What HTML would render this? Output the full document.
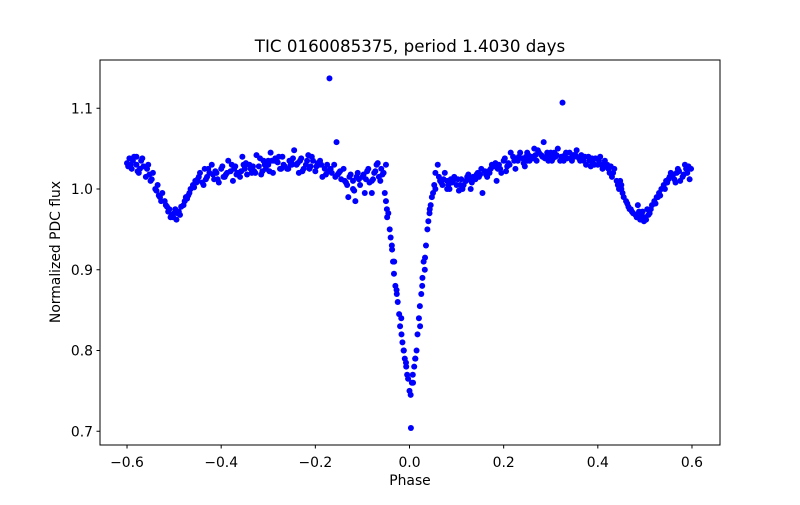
<!DOCTYPE html>
<html><head><meta charset="utf-8"><style>
body{margin:0;background:#fff}
text{font-family:"DejaVu Sans","Liberation Sans",sans-serif;fill:#000}
</style></head><body>
<svg id="chart" width="800" height="500" xmlns="http://www.w3.org/2000/svg">
<rect width="800" height="500" fill="#fff"/>
<g id="points"></g>
<rect x="100" y="60" width="620" height="385" fill="none" stroke="#000" stroke-width="1"/>
<g id="xticks"></g>
<g id="yticks"></g>
<text x="410" y="52" font-size="16.7" text-anchor="middle">TIC 0160085375, period 1.4030 days</text>
<text x="410" y="485" font-size="13.9" text-anchor="middle">Phase</text>
<text transform="translate(60,252) rotate(-90)" font-size="13.9" text-anchor="middle">Normalized PDC flux</text>
</svg>
<script>
const xTicks=[-0.6,-0.4,-0.2,0.0,0.2,0.4,0.6];
const xTickLabels=["−0.6","−0.4","−0.2","0.0","0.2","0.4","0.6"];
const yTicks=[0.7,0.8,0.9,1.0,1.1];
const yTickLabels=["0.7","0.8","0.9","1.0","1.1"];
const phases=[-0.600,-0.595,-0.590,-0.585,-0.580,-0.575,-0.570,-0.565,-0.560,-0.555,-0.550,-0.545,-0.540,-0.535,-0.530,-0.525,-0.520,-0.515,-0.510,-0.505,-0.500,-0.495,-0.490,-0.485,-0.480,-0.475,-0.470,-0.465,-0.460,-0.455,-0.450,-0.445,-0.440,-0.435,-0.430,-0.425,-0.420,-0.415,-0.410,-0.405,-0.400,-0.395,-0.390,-0.385,-0.380,-0.375,-0.370,-0.365,-0.360,-0.355,-0.350,-0.345,-0.340,-0.335,-0.330,-0.325,-0.320,-0.315,-0.310,-0.305,-0.300,-0.295,-0.290,-0.285,-0.280,-0.275,-0.270,-0.265,-0.260,-0.255,-0.250,-0.245,-0.240,-0.235,-0.230,-0.225,-0.220,-0.215,-0.210,-0.205,-0.200,-0.195,-0.190,-0.185,-0.180,-0.175,-0.170,-0.165,-0.160,-0.155,-0.150,-0.145,-0.140,-0.135,-0.130,-0.125,-0.120,-0.115,-0.110,-0.105,-0.100,-0.095,-0.090,-0.085,-0.080,-0.075,-0.070,-0.065,-0.060,-0.055,-0.050,-0.045,-0.040,-0.035,-0.030,-0.025,-0.020,-0.015,-0.010,-0.005,0.000,0.005,0.010,0.015,0.020,0.025,0.030,0.035,0.040,0.045,0.050,0.055,0.060,0.065,0.070,0.075,0.080,0.085,0.090,0.095,0.100,0.105,0.110,0.115,0.120,0.125,0.130,0.135,0.140,0.145,0.150,0.155,0.160,0.165,0.170,0.175,0.180,0.185,0.190,0.195,0.200,0.205,0.210,0.215,0.220,0.225,0.230,0.235,0.240,0.245,0.250,0.255,0.260,0.265,0.270,0.275,0.280,0.285,0.290,0.295,0.300,0.305,0.310,0.315,0.320,0.325,0.330,0.335,0.340,0.345,0.350,0.355,0.360,0.365,0.370,0.375,0.380,0.385,0.390,0.395,0.400,0.405,0.410,0.415,0.420,0.425,0.430,0.435,0.440,0.445,0.450,0.455,0.460,0.465,0.470,0.475,0.480,0.485,0.490,0.495,0.500,0.505,0.510,0.515,0.520,0.525,0.530,0.535,0.540,0.545,0.550,0.555,0.560,0.565,0.570,0.575,0.580,0.585,0.590,0.595,0.598,
-0.048,-0.042,-0.037,-0.033,-0.027,-0.022,-0.017,-0.012,-0.007,-0.003,0.003,0.007,0.012,0.017,0.022,0.027,0.033,0.038,0.043,-0.062,-0.58,-0.502,0.498,-0.3,0.3,-0.12,0.12,-0.08,0.08,-0.25,0.25,-0.45,0.45,-0.35,0.35,-0.05,0.055];
const fluxes=[1.032,1.038,1.025,1.040,1.030,1.020,1.035,1.028,1.015,1.030,1.010,1.020,1.000,1.005,0.990,0.995,0.985,0.978,0.975,0.968,0.970,0.962,0.972,0.978,0.980,0.990,0.992,1.000,1.005,1.010,1.012,1.020,1.008,1.025,1.015,1.020,1.030,1.012,1.020,1.008,1.025,1.015,1.018,1.035,1.022,1.010,1.028,1.020,1.015,1.040,1.025,1.018,1.030,1.020,1.022,1.042,1.028,1.018,1.035,1.025,1.030,1.045,1.020,1.038,1.033,1.025,1.040,1.028,1.025,1.035,1.032,1.048,1.030,1.020,1.038,1.025,1.030,1.042,1.028,1.035,1.022,1.032,1.035,1.015,1.025,1.030,1.137,1.020,1.030,1.058,1.020,1.012,1.025,1.008,0.990,1.018,1.010,0.985,1.020,1.005,1.015,0.995,1.022,1.008,1.010,1.020,1.030,1.015,1.025,1.020,0.985,0.970,0.940,0.910,0.880,0.860,0.830,0.810,0.790,0.770,0.750,0.760,0.780,0.800,0.840,0.870,0.910,0.930,0.960,0.980,0.995,1.020,1.030,1.010,1.005,1.020,1.010,1.000,1.008,1.015,1.005,0.998,1.012,1.005,1.010,1.018,1.000,1.015,1.012,1.020,1.018,0.995,1.022,1.015,1.020,1.030,1.028,1.010,1.030,1.020,1.035,1.022,1.032,1.045,1.040,1.025,1.035,1.045,1.038,1.028,1.045,1.035,1.040,1.050,1.035,1.045,1.042,1.058,1.040,1.035,1.045,1.038,1.040,1.050,1.035,1.107,1.042,1.038,1.045,1.035,1.040,1.048,1.038,1.042,1.035,1.030,1.040,1.028,1.032,1.038,1.030,1.040,1.025,1.035,1.030,1.020,1.015,1.025,1.010,1.000,1.000,0.990,0.985,0.978,0.975,0.970,0.968,0.980,0.962,0.972,0.965,0.975,0.970,0.980,0.985,0.990,0.995,1.000,1.005,1.010,1.012,1.020,1.018,1.008,1.025,1.010,1.015,1.030,1.020,1.012,1.025,
0.975,0.950,0.925,0.895,0.870,0.845,0.820,0.800,0.780,0.765,0.704,0.770,0.790,0.820,0.855,0.880,0.915,0.950,0.975,1.010,1.040,0.965,0.960,1.035,1.040,1.000,1.010,0.995,1.000,1.030,1.035,1.010,1.005,1.028,1.042,1.030,1.000];
const phases2=[-0.5975,-0.5875,-0.5775,-0.5675,-0.5575,-0.5475,-0.5375,-0.5275,-0.5175,-0.5075,-0.4975,-0.4875,-0.4775,-0.4675,-0.4575,-0.4475,-0.4375,-0.4275,-0.4175,-0.4075,-0.3975,-0.3875,-0.3775,-0.3675,-0.3575,-0.3475,-0.3375,-0.3275,-0.3175,-0.3075,-0.2975,-0.2875,-0.2775,-0.2675,-0.2575,-0.2475,-0.2375,-0.2275,-0.2175,-0.2075,-0.1975,-0.1875,-0.1775,-0.1675,-0.1575,-0.1475,-0.1375,-0.1275,-0.1175,-0.1075,-0.0975,-0.0875,-0.0775,-0.0675,-0.0575,-0.0475,-0.0375,-0.0275,-0.0175,-0.0075,0.0025,0.0125,0.0225,0.0325,0.0425,0.0525,0.0625,0.0725,0.0825,0.0925,0.1025,0.1125,0.1225,0.1325,0.1425,0.1525,0.1625,0.1725,0.1825,0.1925,0.2025,0.2125,0.2225,0.2325,0.2425,0.2525,0.2625,0.2725,0.2825,0.2925,0.3025,0.3125,0.3225,0.3325,0.3425,0.3525,0.3625,0.3725,0.3825,0.3925,0.4025,0.4125,0.4225,0.4325,0.4425,0.4525,0.4625,0.4725,0.4825,0.4925,0.5025,0.5125,0.5225,0.5325,0.5425,0.5525,0.5625,0.5725,0.5825,0.5925];
const fluxes2=[1.028,1.035,1.022,1.038,1.025,1.012,0.998,0.985,0.980,0.965,0.975,0.968,0.985,0.995,1.002,1.015,1.005,1.025,1.018,1.012,1.028,1.020,1.030,1.018,1.022,1.032,1.025,1.020,1.038,1.030,1.022,1.035,1.040,1.030,1.025,1.038,1.032,1.022,1.035,1.040,1.028,1.030,1.018,1.025,1.015,1.022,1.010,1.015,0.998,1.012,1.018,1.025,1.012,1.032,1.018,0.965,0.930,0.875,0.840,0.785,0.745,0.790,0.830,0.900,0.970,1.005,1.015,1.012,1.005,1.010,1.012,1.000,1.015,1.008,1.018,1.025,1.018,1.025,1.032,1.025,1.038,1.030,1.035,1.040,1.032,1.042,1.038,1.048,1.040,1.045,1.035,1.042,1.040,1.045,1.038,1.042,1.035,1.040,1.035,1.030,1.035,1.028,1.025,1.020,1.005,0.995,0.982,0.972,0.965,0.968,0.962,0.975,0.982,0.992,1.000,1.015,1.012,1.022,1.018,1.028];
const phases3=[-0.5925,-0.5725,-0.5525,-0.5325,-0.5125,-0.4925,-0.4725,-0.4525,-0.4325,-0.4125,-0.3925,-0.3725,-0.3525,-0.3325,-0.3125,-0.2925,-0.2725,-0.2525,-0.2325,-0.2125,-0.1925,-0.1725,-0.1525,-0.1325,-0.1125,-0.0925,-0.0725,-0.0525,-0.0325,-0.0125,0.0075,0.0275,0.0475,0.0675,0.0875,0.1075,0.1275,0.1475,0.1675,0.1875,0.2075,0.2275,0.2475,0.2675,0.2875,0.3075,0.3275,0.3475,0.3675,0.3875,0.4075,0.4275,0.4475,0.4675,0.4875,0.5075,0.5275,0.5475,0.5675,0.5875];
const fluxes3=[1.030,1.025,1.018,0.992,0.972,0.970,0.988,1.008,1.012,1.022,1.015,1.025,1.030,1.028,1.022,1.035,1.025,1.030,1.035,1.025,1.030,1.022,1.018,1.005,1.015,1.012,1.022,0.995,0.910,0.800,0.760,0.890,0.990,1.008,1.012,1.005,1.012,1.015,1.022,1.025,1.028,1.038,1.040,1.042,1.038,1.045,1.035,1.042,1.040,1.038,1.030,1.028,1.010,0.975,0.972,0.968,0.990,1.008,1.020,1.025];
const X=v=>409.5+(v*470.8);
const Y=v=>189-(v-1)*807.5;
const NS="http://www.w3.org/2000/svg";
const pg=document.getElementById('points');
function plot(px,fy){
  for(let i=0;i<px.length;i++){
    const c=document.createElementNS(NS,'circle');
    
    
    c.setAttribute('cx',X(px[i]));c.setAttribute('cy',Y(fy[i]));
    c.setAttribute('r',3);c.setAttribute('fill','#0000ff');
    pg.appendChild(c);
  }
}
plot(phases,fluxes);plot(phases2,fluxes2);plot(phases3,fluxes3);
const xg=document.getElementById('xticks');
xTicks.forEach((t,i)=>{
  const l=document.createElementNS(NS,'line');
  
  
  l.setAttribute('x1',X(t));l.setAttribute('x2',X(t));l.setAttribute('y1',445);l.setAttribute('y2',448.5);l.setAttribute('stroke','#000');
  xg.appendChild(l);
  const tx=document.createElementNS(NS,'text');
  
  
  tx.setAttribute('x',X(t));tx.setAttribute('y',467);tx.setAttribute('font-size','13.9');tx.setAttribute('text-anchor','middle');
  tx.textContent=xTickLabels[i];xg.appendChild(tx);
});
const yg=document.getElementById('yticks');
yTicks.forEach((t,i)=>{
  const l=document.createElementNS(NS,'line');
  
  
  l.setAttribute('x1',96.5);l.setAttribute('x2',100);l.setAttribute('y1',Y(t));l.setAttribute('y2',Y(t));l.setAttribute('stroke','#000');
  yg.appendChild(l);
  const tx=document.createElementNS(NS,'text');
  
  
  tx.setAttribute('x',93);tx.setAttribute('y',Y(t)+5);tx.setAttribute('font-size','13.9');tx.setAttribute('text-anchor','end');
  tx.textContent=yTickLabels[i];yg.appendChild(tx);
});
</script>
</body></html>
